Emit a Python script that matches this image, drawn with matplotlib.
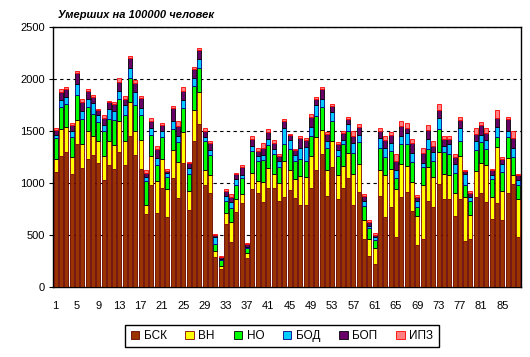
import matplotlib
matplotlib.use("Agg")
import matplotlib.pyplot as plt
import numpy as np

plt.rcParams['font.family'] = ['Liberation Sans', 'DejaVu Sans']

# values per region (1..88)
bsk = [1109, 1261, 1303, 1090, 1380, 1145, 1235, 1271, 1196, 1032,
       1171, 1135, 1303, 1174, 1448, 1267, 1138, 706, 980, 713,
       955, 671, 1048, 855, 1190, 739, 1403, 1564, 977, 906,
       293, 177, 610, 432, 719, 806, 281, 945, 900, 819,
       955, 955, 826, 868, 932, 858, 787, 787, 955, 1129,
       1284, 874, 1158, 842, 955, 1045, 793, 913, 461, 300,
       219, 874, 674, 771, 480, 868, 916, 729, 400, 464,
       826, 771, 987, 848, 842, 680, 851, 439, 464, 868,
       900, 819, 655, 809, 642, 906, 987, 477]
vn = [126, 258, 232, 161, 223, 229, 268, 177, 206, 229,
      232, 229, 293, 235, 329, 235, 274, 84, 284, 306,
      277, 274, 268, 348, 297, 184, 300, 316, 148, 171,
      52, 26, 103, 190, 123, 87, 45, 155, 123, 194,
      187, 132, 177, 348, 194, 177, 281, 268, 306, 316,
      226, 252, 245, 235, 210, 242, 290, 268, 187, 164,
      152, 248, 403, 364, 464, 319, 248, 284, 281, 522,
      332, 290, 313, 242, 239, 226, 410, 426, 232, 248,
      290, 355, 213, 542, 281, 332, 87, 371]
no = [197, 210, 223, 194, 242, 242, 229, 213, 187, 239,
      213, 242, 213, 248, 232, 252, 242, 229, 197, 155,
      210, 116, 203, 190, 239, 161, 229, 226, 277, 190,
      71, 58, 113, 139, 142, 158, 45, 206, 194, 206,
      223, 197, 152, 164, 206, 177, 168, 158, 194, 203,
      226, 213, 197, 181, 210, 216, 210, 210, 135, 103,
      77, 219, 171, 171, 106, 187, 210, 194, 90, 171,
      174, 152, 219, 213, 197, 194, 145, 113, 129, 203,
      206, 158, 168, 90, 184, 206, 181, 129]
bod = [32, 74, 68, 52, 106, 77, 77, 110, 65, 58,
       97, 87, 77, 94, 100, 126, 71, 35, 68, 65,
       58, 32, 77, 61, 74, 58, 77, 90, 39, 48,
       68, 13, 48, 58, 52, 23, 16, 48, 45, 52,
       55, 42, 58, 148, 84, 55, 97, 132, 87, 100,
       68, 65, 81, 61, 42, 65, 97, 71, 42, 23,
       32, 90, 94, 84, 74, 81, 103, 81, 52, 32,
       90, 87, 103, 52, 94, 81, 119, 106, 39, 81,
       68, 84, 42, 103, 81, 55, 84, 52]
bop = [42, 77, 81, 61, 110, 90, 77, 58, 45, 71,
       65, 65, 90, 58, 90, 87, 94, 45, 68, 87,
       55, 19, 123, 97, 87, 52, 84, 84, 58, 68,
       16, 13, 52, 45, 48, 84, 23, 68, 48, 71,
       68, 55, 48, 68, 45, 48, 97, 65, 97, 61,
       97, 68, 61, 55, 65, 48, 65, 81, 48, 39,
       23, 68, 74, 71, 87, 90, 52, 97, 45, 97,
       90, 58, 84, 68, 52, 71, 81, 32, 42, 71,
       94, 65, 45, 81, 42, 116, 90, 48]
ipz = [23, 23, 16, 16, 19, 26, 19, 19, 16, 26,
       16, 23, 32, 26, 23, 23, 19, 23, 29, 26,
       19, 19, 19, 42, 35, 13, 23, 19, 26, 26,
       13, 10, 19, 35, 16, 19, 13, 26, 23, 39,
       32, 32, 16, 19, 10, 10, 19, 19, 23, 16,
       19, 19, 19, 19, 19, 19, 45, 23, 26, 16,
       16, 26, 32, 26, 71, 48, 45, 39, 13, 55,
       45, 42, 52, 32, 26, 26, 26, 6, 13, 55,
       26, 45, 16, 74, 16, 16, 68, 13]

series = [bsk, vn, no, bod, bop, ipz]
names = ['БСК', 'ВН', 'НО', 'БОД', 'БОП', 'ИПЗ']
colors = ['#993300', '#FFFF00', '#00FF00', '#00CCFF', '#660066', '#FF8080']
edges = ['#660000', '#800000', 'black', '#000080', 'black', 'red']

x = np.arange(1, len(bsk) + 1)

fig = plt.figure(figsize=(5.3, 3.57), dpi=100)
ax = fig.add_axes([0.1, 0.196, 0.883, 0.728])

bottom = np.zeros(len(x))
handles = []
for vals, name, c, e in zip(series, names, colors, edges):
    b = ax.bar(x, vals, width=0.75, bottom=bottom, color=c, edgecolor=e,
               linewidth=0.6, label=name, zorder=3)
    handles.append(b)
    bottom += np.array(vals)

ax.set_xlim(0.5, len(x) + 0.5)
ax.set_ylim(0, 2500)
ax.set_yticks(np.arange(0, 2501, 500))
ax.set_xticks(np.arange(1, 86, 4))
ax.tick_params(axis='x', labelsize=8, length=0, pad=10)
ax.tick_params(axis='y', labelsize=8, length=3, pad=3)
ax.yaxis.grid(True, linestyle=(0, (3, 3)), color='black', linewidth=0.8, zorder=0)
for sp in ax.spines.values():
    sp.set_linewidth(1.0)

fig.text(0.11, 0.957, 'Умерших на 100000 человек', fontsize=8,
         fontweight='bold', fontstyle='italic', va='center')

leg = fig.legend(handles, names, loc='center', bbox_to_anchor=(0.532, 0.059),
                 ncol=6, fontsize=8.5, frameon=True, fancybox=False,
                 edgecolor='black', framealpha=1, handlelength=0.7,
                 handleheight=0.7, columnspacing=1.6, handletextpad=0.4,
                 borderpad=0.45)
leg.get_frame().set_linewidth(1.0)

fig.savefig('out.png', dpi=100)
